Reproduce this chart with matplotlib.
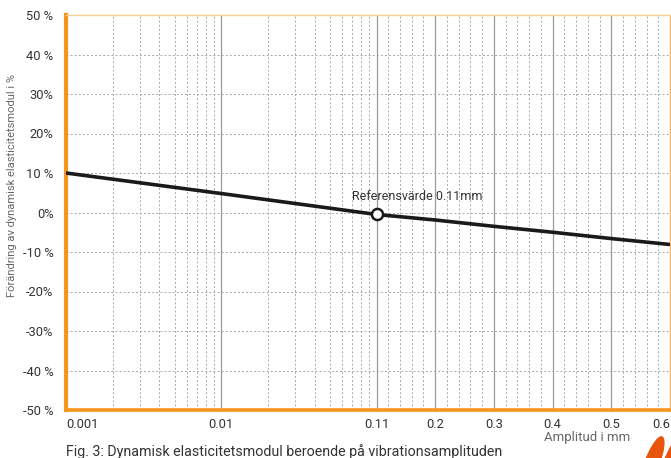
import numpy as np
import matplotlib
matplotlib.use('Agg')
import matplotlib.pyplot as plt
from matplotlib.patches import Ellipse

plt.rcParams['font.family'] = ['Roboto', 'DejaVu Sans']

# --- data ---
amplitude = [0.001, 0.01, 0.1, 0.2, 0.3, 0.4, 0.5, 0.6]
change_pct = [10.0, 4.8, -0.5, -1.9, -3.5, -5.0, -6.6, -8.1]
ref_x = 0.1
ref_y = -0.5
x_ticks = [0.001, 0.01, 0.1, 0.2, 0.3, 0.4, 0.5, 0.6]
x_labels = ['0.001', '0.01', '0.11', '0.2', '0.3', '0.4', '0.5', '0.6']
y_ticks = [50, 40, 30, 20, 10, 0, -10, -20, -30, -40, -50]
y_labels = ['50 %', '40 %', '30%', '20%', '10 %', '0%', '-10 %', '-20%', '-30%', '-40 %', '-50 %']

# log up to 0.1, linear after that
K = 3.78


def fwd(x):
    x = np.asarray(x, dtype=float)
    return np.where(x <= 0.1, np.log10(np.clip(x, 1e-9, None)), -1 + (x - 0.1) * K)


def inv(u):
    u = np.asarray(u, dtype=float)
    return np.where(u <= -1, 10 ** np.clip(u, -9, 9), 0.1 + (u + 1) / K)


ORANGE = '#F7941D'
GRID = '#a8a8a8'
TXT = '#333333'

fig = plt.figure(figsize=(6.71, 4.58), dpi=100)
ax = fig.add_axes([66 / 671, 48 / 458, 604 / 671, 395 / 458])
ax.set_xscale('function', functions=(fwd, inv))
ax.set_xlim(0.001, 0.6)
ax.set_ylim(-50, 50)

minor = [m * d for d in (0.001, 0.01) for m in range(2, 10)]
minor += [round(0.1 + i * 0.02, 3) for i in range(1, 25) if i % 5 != 0]
ax.set_xticks(x_ticks)
ax.set_xticklabels(x_labels)
ax.set_xticks(minor, minor=True)
ax.set_yticks(y_ticks)
ax.set_yticklabels(y_labels)
ax.tick_params(which='both', length=0)
ax.tick_params(axis='both', labelsize=9.3, colors=TXT)
ax.tick_params(axis='y', pad=9)
ax.tick_params(axis='x', pad=6)
labels = ax.get_xticklabels()
labels[0].set_horizontalalignment('left')
labels[-1].set_horizontalalignment('right')

# grid
for xv in x_ticks[1:-1]:
    ax.axvline(xv, color='#9a9a9a', lw=0.9, zorder=1)
ax.grid(True, which='minor', axis='x', color=GRID, ls=(0, (2, 2.2)), lw=0.7)
ax.grid(True, which='major', axis='y', color=GRID, ls=(0, (2, 2.2)), lw=0.7)

# spines
ax.spines['left'].set_color(ORANGE)
ax.spines['left'].set_linewidth(3)
ax.spines['bottom'].set_color(ORANGE)
ax.spines['bottom'].set_linewidth(2.6)
ax.spines['top'].set_color('#FCCF95')
ax.spines['top'].set_linewidth(1)
ax.spines['right'].set_color('#FAB560')
ax.spines['right'].set_linewidth(1)

ax.plot(amplitude, change_pct, color='#1a1a1a', lw=2.6, zorder=3, solid_capstyle='butt')
ax.plot([ref_x], [ref_y], 'o', ms=8, mfc='white', mec='#1a1a1a', mew=1.8, zorder=4)
ax.annotate('Referensvärde 0.11mm', (ref_x, ref_y), xytext=(29, 13), textcoords='offset points',
            ha='center', va='center', fontsize=9, color=TXT)

fig.text(12 / 671, 1 - 185 / 458, 'Förändring av dynamisk elasticitetsmodul i %', rotation=90,
         ha='center', va='center', fontsize=8, color='#666666')
fig.text(630 / 671, 1 - 438 / 458, 'Amplitud i mm', ha='right', va='center', fontsize=9.5, color='#666666')
fig.text(66 / 671, 1 - 452 / 458, 'Fig. 3: Dynamisk elasticitetsmodul beroende på vibrationsamplituden',
         ha='left', va='center', fontsize=10.3, color=TXT)

# logo fragment in the corner
for cx in (651, 670):
    fig.patches.append(Ellipse((cx / 671, -8 / 458), 15 / 671, 60 / 458, angle=-14,
                               transform=fig.transFigure, color='#E9540D', zorder=5))

fig.savefig('out.png', dpi=100)
